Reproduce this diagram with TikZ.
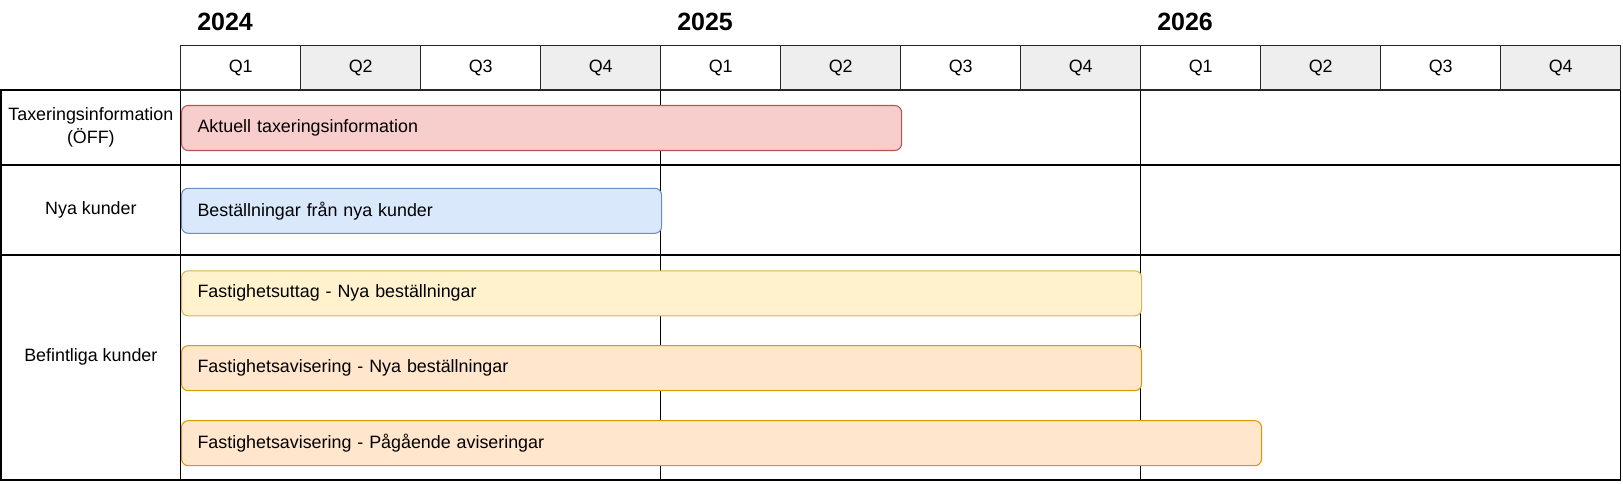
\documentclass[tikz,border=0pt]{standalone}
\usepackage{fontspec}
\setmainfont{Liberation Sans}
\usepackage{xcolor}
\usetikzlibrary{positioning}

\definecolor{qgrey}{HTML}{EEEEEE}
\definecolor{redfill}{HTML}{F8CECC}
\definecolor{redline}{HTML}{B85450}
\definecolor{bluefill}{HTML}{DAE8FC}
\definecolor{blueline}{HTML}{6C8EBF}
\definecolor{yellowfill}{HTML}{FFF2CC}
\definecolor{yellowline}{HTML}{D6B656}
\definecolor{orangefill}{HTML}{FFE6CC}
\definecolor{orangeline}{HTML}{D79B00}

\newcommand{\lblfont}{\fontsize{13.4}{17}\selectfont}

\begin{document}
\begin{tikzpicture}[
    x=0.75pt, y=-0.75pt,
    quarter/.style={rectangle, draw=black!85, line width=1.1pt, minimum width=90pt, minimum height=33.2pt, inner sep=0pt, font=\lblfont},
    year/.style={anchor=base west, inner sep=0pt, font=\fontsize{18.75}{22}\selectfont\bfseries},
    rowlabel/.style={rectangle, draw, line width=1.1pt, minimum width=134.8pt, inner sep=0pt, align=center, font=\lblfont},
    cell/.style={rectangle, draw, line width=1.1pt, minimum width=360pt, inner sep=0pt},
    bar/.style={rectangle, rounded corners=5pt, line width=0.8pt, minimum height=33.75pt, inner xsep=12pt, inner ysep=0pt, align=left, anchor=west, font=\lblfont}
]
    \useasboundingbox (0,0) rectangle (1623,483);

    % year cells per row
    \foreach \k in {0,1,2} {
        \node[cell, minimum height=56.25pt] (c1\k) at (420.7+480*\k,127.5) {};
        \node[cell, minimum height=67.5pt] (c2\k) at (420.7+480*\k,210) {};
        \node[cell, minimum height=168.75pt] (c3\k) at (420.7+480*\k,367.5) {};
    }

    % row labels
    \node[rowlabel, minimum height=56.25pt] (r1) at (90.85,127.5) {Taxeringsinformation\\(ÖFF)};
    \node[rowlabel, minimum height=67.5pt] (r2) at (90.85,210) {Nya kunder};
    \node[rowlabel, minimum height=168.75pt] (r3) at (90.85,367.5) {};
    \node[font=\lblfont, inner sep=0pt] (r3t) at ([yshift=8.25pt]r3.center) {Befintliga kunder};

    % quarters
    \foreach \i in {1,...,12} {
        \pgfmathtruncatemacro\q{mod(\i-1,4)+1}
        \ifodd\i \def\qfill{white}\else \def\qfill{qgrey}\fi
        \node[quarter, fill=\qfill] (q\i) at (120.7+120*\i,67.85) {Q\q};
    }

    % years
    \foreach \yr [count=\k from 0] in {2024,2025,2026}
        \node[year] (y\yr) at (197+480*\k,30) {\yr};

    % bars
    \node[bar, fill=redfill, draw=redline, text width=516pt] (b1) at (181,128) {Aktuell taxeringsinformation};
    \node[bar, fill=bluefill, draw=blueline, text width=336pt] (b2) at (181,210.8) {Beställningar från nya kunder};
    \node[bar, fill=yellowfill, draw=yellowline, text width=696pt] (b3) at (181,293.3) {Fastighetsuttag - Nya beställningar};
    \node[bar, fill=orangefill, draw=orangeline, text width=696pt] (b4) at (181,368.2) {Fastighetsavisering - Nya beställningar};
    \node[bar, fill=orangefill, draw=orangeline, text width=786pt] (b5) at (181,443.2) {Fastighetsavisering - Pågående aviseringar};
\end{tikzpicture}
\end{document}
